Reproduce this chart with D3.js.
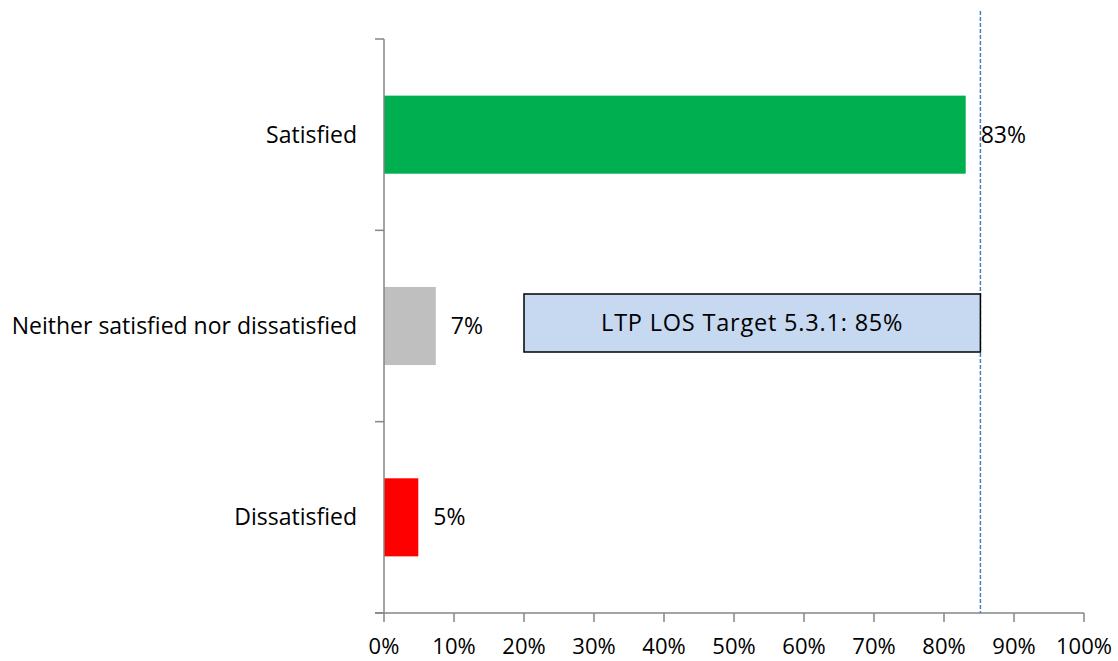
<!DOCTYPE html>
<html><head><meta charset="utf-8">
<script src="https://cdn.jsdelivr.net/npm/d3@7"></script>
<style>body{margin:0;background:#fff}svg text{font-family:"Open Sans",sans-serif;fill:#000}</style>
</head><body><svg id="c" width="1118" height="661"></svg>
<script>
const categories = ["Satisfied","Neither satisfied nor dissatisfied","Dissatisfied"];
const values = [83.1, 7.4, 4.9];
const valueLabels = ["83%","7%","5%"];
const colors = ["#00B050","#BFBFBF","#FF0000"];
const xTicks = [0,10,20,30,40,50,60,70,80,90,100];
const targetValue = 85.2;
const targetBoxStart = 20;
const targetText = "LTP LOS Target 5.3.1: 85%";

(function(){
const svg = d3.select("#c");
const x = d3.scaleLinear().domain([0,100]).range([384,1084]);
const y = d3.scaleBand().domain(categories).range([39,613]).paddingInner(0.592).paddingOuter(0.296);
const axisColor = "#868686";
const fs = 23;

svg.selectAll("rect.bar").data(values).enter().append("rect")
  .attr("x", x(0)).attr("y",(d,i)=>y(categories[i]))
  .attr("width", d=>x(d)-x(0)).attr("height", y.bandwidth())
  .attr("fill",(d,i)=>colors[i]);

svg.selectAll("text.val").data(values).enter().append("text")
  .attr("x", d=>x(d)+15).attr("y",(d,i)=>y(categories[i])+y.bandwidth()/2+8)
  .attr("font-size",fs).text((d,i)=>valueLabels[i]);

const yTop = y.range()[0], yBot = y.range()[1];
svg.append("line").attr("x1",x(0)).attr("x2",x(0)).attr("y1",yTop).attr("y2",yBot).attr("stroke",axisColor).attr("stroke-width",1.5);
const yTickPos = d3.range(categories.length+1).map(i=>yTop + i*y.step());
svg.selectAll("line.yt").data(yTickPos).enter().append("line")
  .attr("x1",x(0)-9).attr("x2",x(0)).attr("y1",d=>d).attr("y2",d=>d).attr("stroke",axisColor).attr("stroke-width",1.5);
svg.selectAll("text.yl").data(categories).enter().append("text")
  .attr("x",357).attr("y",d=>y(d)+y.bandwidth()/2+8).attr("text-anchor","end")
  .attr("font-size",fs).text(d=>d);

svg.append("line").attr("x1",x(0)-9).attr("x2",x(100)).attr("y1",yBot).attr("y2",yBot).attr("stroke",axisColor).attr("stroke-width",1.5);
svg.selectAll("line.xt").data(xTicks).enter().append("line")
  .attr("x1",d=>x(d)).attr("x2",d=>x(d)).attr("y1",yBot).attr("y2",yBot+9).attr("stroke",axisColor).attr("stroke-width",1.5);
svg.selectAll("text.xl").data(xTicks).enter().append("text")
  .attr("x",d=>x(d)).attr("y",654).attr("text-anchor","middle").attr("font-size",22).text(d=>d+"%");

svg.append("line").attr("x1",x(targetValue)).attr("x2",x(targetValue)).attr("y1",11).attr("y2",yBot)
  .attr("stroke","#4A7EBB").attr("stroke-width",1.5).attr("stroke-dasharray","4,2");

svg.append("rect").attr("x",x(targetBoxStart)).attr("y",294).attr("width",x(targetValue)-x(targetBoxStart)).attr("height",58)
  .attr("fill","#C6D9F1").attr("stroke","#000").attr("stroke-width",1.5);
svg.append("text").attr("x",(x(targetBoxStart)+x(targetValue))/2).attr("y",331).attr("text-anchor","middle")
  .attr("font-size",23.5).attr("letter-spacing",0.8).text(targetText);
})();
</script></body></html>
